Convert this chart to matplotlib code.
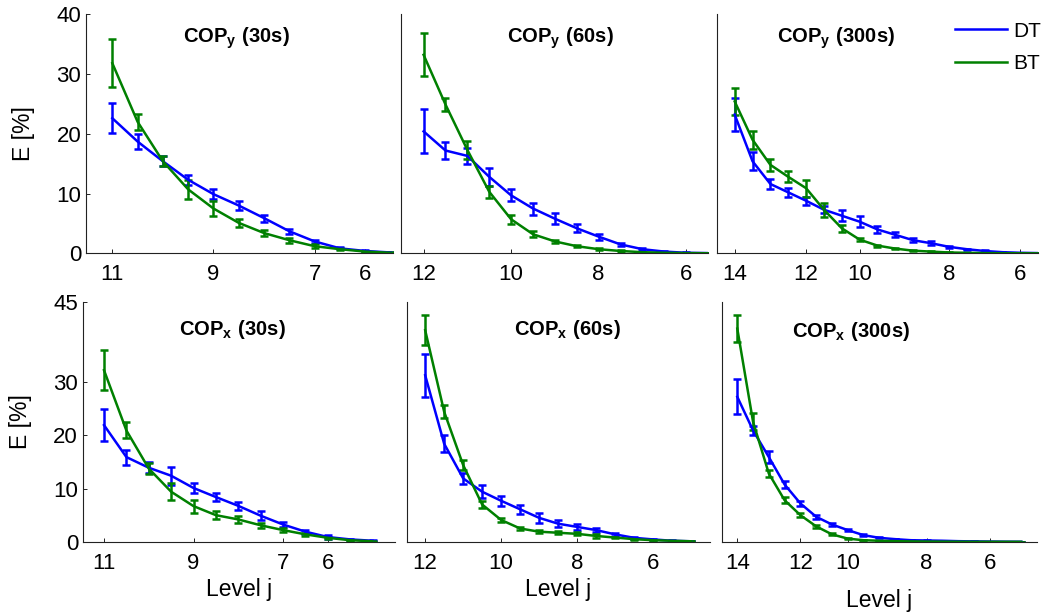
"""
Relative energy E per wavelet level j for the COP signals (DT vs BT).
"""

import matplotlib

matplotlib.use("Agg")
import matplotlib.pyplot as plt

plt.rcParams["font.family"] = ["Liberation Sans", "DejaVu Sans"]
plt.rcParams["mathtext.fontset"] = "custom"
plt.rcParams["mathtext.rm"] = "Liberation Sans"
plt.rcParams["mathtext.bf"] = "Liberation Sans:bold"

# Tick labels (levels) for each window length
levels_30s = ["11", "9", "7", "6"]
levels_60s = ["12", "10", "8", "6"]
levels_300s = ["14", "12", "10", "8", "6"]
level_pos_30s = [0, 4, 8, 10]
level_pos_60s = [0, 4, 8, 12]
level_pos_300s = [0, 4, 7, 12, 16]

# COP y, 30s
dt_y30 = [22.6, 18.7, 15.4, 12.3, 9.9, 8.0, 5.9, 3.7, 2.0, 0.84, 0.4, 0.15]
dt_y30_err = [2.5, 1.2, 0.8, 0.8, 0.8, 0.8, 0.6, 0.4, 0.3, 0.15, 0.1, 0.05]
bt_y30 = [31.8, 22.0, 15.4, 10.7, 7.5, 5.1, 3.4, 2.2, 1.2, 0.7, 0.3, 0.1]
bt_y30_err = [4.0, 1.3, 0.8, 1.6, 1.3, 0.7, 0.5, 0.4, 0.3, 0.15, 0.1, 0.05]

# COP y, 60s
dt_y60 = [20.4, 17.2, 16.3, 12.8, 9.7, 7.5, 5.8, 4.2, 2.8, 1.5, 0.7, 0.3, 0.1, 0.05]
dt_y60_err = [3.7, 1.5, 1.4, 1.5, 1.0, 1.0, 0.9, 0.7, 0.5, 0.3, 0.15, 0.1, 0.05, 0.02]
bt_y60 = [33.2, 24.9, 17.3, 10.3, 5.7, 3.2, 2.0, 1.2, 0.7, 0.4, 0.2, 0.1, 0.05, 0.02]
bt_y60_err = [3.6, 1.1, 1.5, 1.0, 0.8, 0.5, 0.3, 0.2, 0.15, 0.1, 0.05, 0.02, 0.01, 0.01]

# COP y, 300s
dt_y300 = [23.2, 15.4, 11.6, 10.2, 8.8, 7.3, 6.3, 5.3, 4.0, 3.1, 2.2, 1.7,
           1.1, 0.7, 0.4, 0.2, 0.1, 0.05]
dt_y300_err = [2.8, 1.5, 0.9, 0.8, 0.7, 0.6, 0.9, 0.9, 0.6, 0.4, 0.3, 0.3,
               0.2, 0.1, 0.1, 0.05, 0.02, 0.01]
bt_y300 = [25.4, 19.0, 14.8, 12.8, 10.9, 7.3, 4.2, 2.3, 1.3, 0.8, 0.45, 0.3,
           0.15, 0.1, 0.05, 0.03, 0.02, 0.01]
bt_y300_err = [2.3, 1.5, 1.0, 0.9, 1.4, 1.2, 0.6, 0.2, 0.15, 0.1, 0.05, 0.05,
               0.02, 0.01, 0.01, 0.01, 0.0, 0.0]

# COP x, 30s
dt_x30 = [21.9, 15.9, 13.9, 12.4, 10.1, 8.4, 6.75, 4.9, 3.25, 1.9, 0.9, 0.45, 0.2]
dt_x30_err = [3.0, 1.4, 1.0, 1.7, 1.0, 0.8, 0.8, 0.8, 0.5, 0.4, 0.3, 0.1, 0.05]
bt_x30 = [32.2, 20.9, 13.75, 9.4, 6.7, 5.0, 4.2, 3.1, 2.2, 1.4, 0.75, 0.3, 0.1]
bt_x30_err = [3.7, 1.5, 1.0, 1.6, 1.2, 0.7, 0.6, 0.5, 0.4, 0.3, 0.15, 0.1, 0.05]

# COP x, 60s
dt_x60 = [31.25, 18.4, 11.9, 9.4, 7.7, 6.1, 4.5, 3.4, 2.8, 2.2, 1.4, 0.75,
          0.45, 0.2, 0.1]
dt_x60_err = [4.0, 1.6, 1.1, 1.25, 0.9, 0.8, 0.9, 0.7, 0.5, 0.4, 0.3, 0.15,
              0.1, 0.05, 0.02]
bt_x60 = [39.7, 24.4, 14.4, 7.0, 4.1, 2.5, 1.9, 1.7, 1.5, 1.1, 0.8, 0.5,
          0.3, 0.2, 0.1]
bt_x60_err = [2.8, 1.2, 0.9, 0.6, 0.4, 0.3, 0.3, 0.3, 0.3, 0.3, 0.15, 0.1,
              0.05, 0.02, 0.01]

# COP x, 300s
dt_x300 = [27.2, 20.9, 15.9, 10.75, 7.2, 4.7, 3.25, 2.2, 1.25, 0.75, 0.5, 0.3,
           0.25, 0.2, 0.12, 0.08, 0.05, 0.02, 0.01]
dt_x300_err = [3.3, 0.8, 1.1, 0.7, 0.5, 0.4, 0.3, 0.2, 0.15, 0.1, 0.05, 0.05,
               0.03, 0.02, 0.01, 0.01, 0.0, 0.0, 0.0]
bt_x300 = [40.0, 22.5, 12.8, 7.8, 5.0, 2.9, 1.4, 0.6, 0.3, 0.2, 0.12, 0.08,
           0.05, 0.03, 0.02, 0.01, 0.01, 0.005, 0.0]
bt_x300_err = [2.5, 1.6, 0.7, 0.6, 0.4, 0.3, 0.2, 0.1, 0.05, 0.02, 0.01, 0.01,
               0.0, 0.0, 0.0, 0.0, 0.0, 0.0, 0.0]

DT_COLOR = (0, 0, 1)
BT_COLOR = (0, 0.5, 0)

fig = plt.figure(figsize=(10.54, 6.15), dpi=100)

# panel: (axes rect, title, title pos, dt, dt err, bt, bt err, ticks, labels, xlim, ylim, yticks)
panels = [
    ([0.0816, 0.588, 0.2913, 0.389], r"$\mathbf{COP_y\ (30s)}$", (0.49, 0.88),
     dt_y30, dt_y30_err, bt_y30, bt_y30_err, level_pos_30s, levels_30s,
     (-1.04, 11.1), (0, 40), [0, 10, 20, 30, 40]),
    ([0.3805, 0.588, 0.2913, 0.389], r"$\mathbf{COP_y\ (60s)}$", (0.52, 0.88),
     dt_y60, dt_y60_err, bt_y60, bt_y60_err, level_pos_60s, levels_60s,
     (-1.03, 13.0), (0, 40), []),
    ([0.6803, 0.588, 0.3046, 0.389], r"$\mathbf{COP_y\ (300s)}$", (0.37, 0.88),
     dt_y300, dt_y300_err, bt_y300, bt_y300_err, level_pos_300s, levels_300s,
     (-0.99, 17.0), (0, 40), []),
    ([0.0787, 0.119, 0.296, 0.390], r"$\mathbf{COP_x\ (30s)}$", (0.48, 0.8625),
     dt_x30, dt_x30_err, bt_x30, bt_x30_err, level_pos_30s, levels_30s,
     (-0.94, 13.0), (0, 45), [0, 10, 20, 30, 45]),
    ([0.3861, 0.119, 0.2875, 0.390], r"$\mathbf{COP_x\ (60s)}$", (0.53, 0.8625),
     dt_x60, dt_x60_err, bt_x60, bt_x60_err, level_pos_60s, levels_60s,
     (-0.96, 15.0), (0, 45), []),
    ([0.685, 0.119, 0.2989, 0.390], r"$\mathbf{COP_x\ (300s)}$", (0.41, 0.855),
     dt_x300, dt_x300_err, bt_x300, bt_x300_err, level_pos_300s, levels_300s,
     (-0.97, 19.0), (0, 45), []),
]

axes = []
for rect, title, tpos, dt, dt_err, bt, bt_err, ticks, labels, xlim, ylim, yticks in panels:
    ax = fig.add_axes(rect)
    axes.append(ax)
    err_style = dict(elinewidth=1.8, capsize=2.8, capthick=1.8, linewidth=1.8)
    ax.errorbar(range(len(dt)), dt, yerr=dt_err, color=DT_COLOR, label="DT", **err_style)
    ax.errorbar(range(len(bt)), bt, yerr=bt_err, color=BT_COLOR, label="BT", **err_style)

    ax.set_xlim(*xlim)
    ax.set_ylim(*ylim)
    ax.set_xticks(ticks)
    ax.set_xticklabels(labels)
    ax.set_yticks(yticks)
    ax.tick_params(direction="in", length=3, width=0.6, labelsize=16, colors="black")
    ax.tick_params(axis="x", pad=8)
    ax.tick_params(axis="y", pad=3.5)

    # box off
    ax.spines["top"].set_visible(False)
    ax.spines["right"].set_visible(False)
    for side in ["left", "bottom"]:
        ax.spines[side].set_linewidth(0.8)
        ax.spines[side].set_color("#222222")

    ax.text(tpos[0], tpos[1], title, transform=ax.transAxes, ha="center",
            va="baseline", fontsize=14.5)

# y labels for left column only
axes[0].set_ylabel("E [%]", fontsize=16.5, labelpad=15)
axes[3].set_ylabel("E [%]", fontsize=16.5, labelpad=15)

# x labels for bottom row
axes[3].set_xlabel("Level j", fontsize=16.5, labelpad=3)
axes[4].set_xlabel("Level j", fontsize=16.5, labelpad=3)
axes[5].set_xlabel("Level j", fontsize=16.5, labelpad=11)

# Legend (lines only, no error bars)
handles = [plt.Line2D([], [], color=DT_COLOR, linewidth=1.8),
           plt.Line2D([], [], color=BT_COLOR, linewidth=1.8)]
axes[2].legend(handles, ["DT", "BT"], loc="upper right",
               bbox_to_anchor=(1.0, 0.985), bbox_transform=fig.transFigure,
               frameon=False, fontsize=15, handlelength=2.5,
               handletextpad=0.3, labelspacing=0.64, borderaxespad=0.2)

fig.savefig("out.png", dpi=100)
